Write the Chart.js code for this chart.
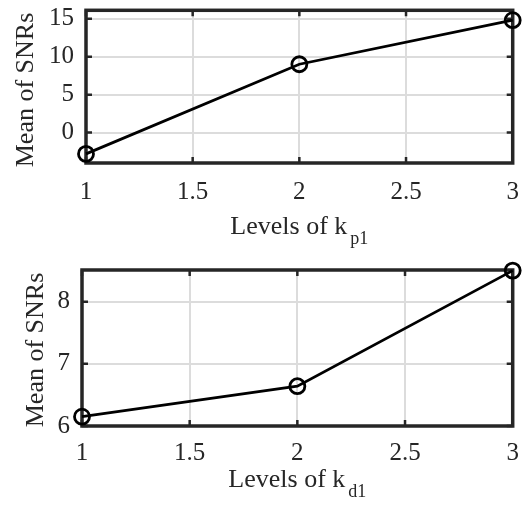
<!DOCTYPE html>
<html>
<head>
<meta charset="utf-8">
<script src="https://cdn.jsdelivr.net/npm/chart.js@4"></script>
<style>
  body { margin: 0; background: #fff; }
  .panel { position: absolute; left: 0; width: 523px; height: 254px; }
</style>
</head>
<body>
<div class="panel" style="top:0"><canvas id="chartKp" width="523" height="254"></canvas></div>
<div class="panel" style="top:254px"><canvas id="chartKd" width="523" height="254"></canvas></div>
<script>
// data
const levels = [1, 2, 3];
const snrKp = [-2.8, 9.0, 14.8];
const snrKd = [6.15, 6.64, 8.5];
const xTicks = [1, 1.5, 2, 2.5, 3];
const yTicksKp = [0, 5, 10, 15];
const yTicksKd = [6, 7, 8];

const ink = '#262626';
const serif = '"Liberation Serif", "Times New Roman", serif';

// MATLAB-ish box, inward ticks and titles with subscript
const matlabAxes = {
    id: 'matlabAxes',
    beforeDatasetsDraw(chart, args, opts) {
        const { ctx, chartArea: a, scales } = chart;
        ctx.save();
        ctx.strokeStyle = ink;
        ctx.lineWidth = 2.5;
        ctx.beginPath();
        scales.x.ticks.forEach(t => {
            const px = scales.x.getPixelForValue(t.value);
            ctx.moveTo(px, a.bottom); ctx.lineTo(px, a.bottom - 6);
            ctx.moveTo(px, a.top); ctx.lineTo(px, a.top + 6);
        });
        scales.y.ticks.forEach(t => {
            const py = scales.y.getPixelForValue(t.value);
            ctx.moveTo(a.left, py); ctx.lineTo(a.left + 6, py);
            ctx.moveTo(a.right, py); ctx.lineTo(a.right - 6, py);
        });
        ctx.stroke();
        ctx.lineWidth = 3.5;
        ctx.strokeRect(a.left, a.top, a.right - a.left, a.bottom - a.top);
        ctx.restore();
    },
    afterDraw(chart, args, opts) {
        const { ctx, chartArea: a } = chart;
        ctx.save();
        ctx.fillStyle = ink;
        ctx.textBaseline = 'alphabetic';
        // x title
        ctx.font = '26px ' + serif;
        const mainW = ctx.measureText(opts.xMain).width;
        ctx.font = '18px ' + serif;
        const subW = ctx.measureText(opts.xSub).width;
        const x0 = (a.left + a.right) / 2 - (mainW + 3 + subW) / 2;
        ctx.textAlign = 'left';
        ctx.font = '26px ' + serif;
        ctx.fillText(opts.xMain, x0, opts.xBase);
        ctx.font = '18px ' + serif;
        ctx.fillText(opts.xSub, x0 + mainW + 3, opts.xBase + 10);
        // y title
        ctx.font = '26px ' + serif;
        ctx.textAlign = 'center';
        ctx.translate(opts.yBaseX, opts.yMid);
        ctx.rotate(-Math.PI / 2);
        ctx.fillText(opts.yText, 0, 0);
        ctx.restore();
    }
};

function noPad(s) {
    s.paddingLeft = 0; s.paddingRight = 0;
    s.paddingTop = 0; s.paddingBottom = 0;
}

function makeChart(id, values, yTicks, yMin, yMax, box) {
    new Chart(document.getElementById(id), {
        type: 'line',
        data: {
            datasets: [{
                data: levels.map((l, i) => ({ x: l, y: values[i] })),
                borderColor: '#000',
                borderWidth: 2.8,
                pointRadius: 7.5,
                pointBorderWidth: 2.8,
                pointBackgroundColor: 'rgba(0,0,0,0)',
                pointBorderColor: '#000',
                tension: 0,
                clip: false
            }]
        },
        options: {
            responsive: false,
            animation: false,
            events: [],
            layout: { padding: { top: box.top, right: 6, left: 0, bottom: 0 } },
            plugins: {
                legend: { display: false },
                tooltip: { enabled: false },
                matlabAxes: box.titles
            },
            scales: {
                x: {
                    type: 'linear',
                    min: 1, max: 3,
                    afterBuildTicks: s => { s.ticks = xTicks.map(v => ({ value: v })); },
                    afterFit: s => { s.height = box.xHeight; noPad(s); },
                    grid: { color: '#dcdcdc', lineWidth: 2, drawTicks: false },
                    border: { display: false },
                    ticks: {
                        color: ink, padding: box.xPad, maxRotation: 0,
                        font: { family: serif, size: 25 },
                        callback: v => String(v)
                    }
                },
                y: {
                    min: yMin, max: yMax,
                    afterBuildTicks: s => { s.ticks = yTicks.map(v => ({ value: v })); },
                    afterFit: s => { s.width = box.yWidth; noPad(s); },
                    grid: { color: '#dcdcdc', lineWidth: 2, drawTicks: false },
                    border: { display: false },
                    ticks: {
                        color: ink, padding: 12,
                        font: { family: serif, size: 25 },
                        callback: v => String(v)
                    }
                }
            }
        },
        plugins: [matlabAxes]
    });
}

makeChart('chartKp', snrKp, yTicksKp, -4, 16.1, {
    top: 7, xHeight: 91, yWidth: 86, xPad: 14,
    titles: { xMain: 'Levels of k', xSub: 'p1', xBase: 234, yText: 'Mean of SNRs', yBaseX: 33, yMid: 90 }
});
makeChart('chartKd', snrKd, yTicksKd, 6, 8.51, {
    top: 16, xHeight: 82, yWidth: 82, xPad: 12,
    titles: { xMain: 'Levels of k', xSub: 'd1', xBase: 233, yText: 'Mean of SNRs', yBaseX: 43, yMid: 96 }
});
</script>
</body>
</html>
